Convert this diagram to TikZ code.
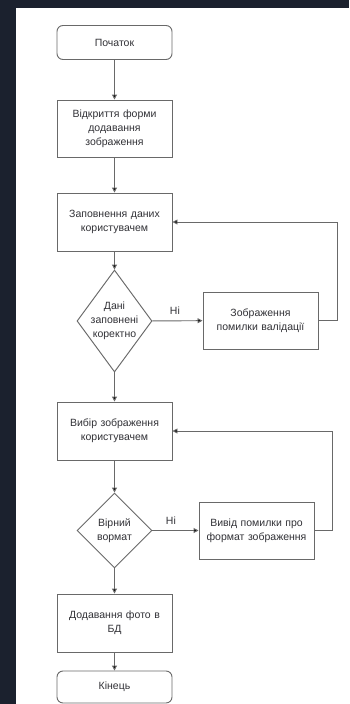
\documentclass[tikz,border=0pt]{standalone}
\usepackage{fontspec}
\setmainfont{Liberation Sans}
\usetikzlibrary{shapes.geometric,arrows.meta}
\definecolor{darkbg}{RGB}{27,33,46}
\definecolor{edgegray}{RGB}{105,105,105}
\definecolor{txtgray}{RGB}{50,50,55}

\begin{document}
\begin{tikzpicture}[x=1pt,y=-1pt,
  font=\fontsize{10.5}{14}\selectfont, text=txtgray,
  proc/.style={draw=edgegray, line width=0.95pt, minimum width=115pt, minimum height=57pt,
    text width=108pt, align=center, inner sep=0pt},
  term/.style={proc, rounded corners=6pt, minimum height=34pt},
  cond/.style={draw=edgegray, line width=0.95pt, shape=diamond, inner sep=0pt,
    minimum width=75pt},
  flow/.style={draw=edgegray, line width=0.95pt, -{Triangle[length=5pt,width=5pt,fill=black]}}]
% background
\fill[darkbg] (0,0) rectangle (349,704);
\fill[white] (16,8) rectangle (349,704);
\useasboundingbox (0,0) rectangle (349,704);

\node[term] (start) at (114.5,42.5) {Початок};
\node[proc] (open) at (114.5,128.5) {Відкриття форми\\додавання\\зображення};
\node[proc, minimum height=58pt] (fill) at (114.5,222) {Заповнення даних\\користувачем};
\node[cond, minimum height=102pt,
  label={[align=center, text=txtgray]center:Дані\\заповнені\\коректно}] (check1) at (114.5,321) {};
\node[proc] (err1) at (260.5,320.5) {Зображення\\помилки валідації};
\node[proc, minimum height=58pt] (choose) at (114.5,431) {Вибір зображення\\користувачем};
\node[cond, minimum height=75pt,
  label={[align=center, text=txtgray]center:Вірний\\вормат}] (check2) at (114.5,530.5) {};
\node[proc] (err2) at (256.5,530.5) {Вивід помилки про\\формат зображення};
\node[proc, minimum height=58pt] (save) at (114.5,623) {Додавання фото в\\БД};
\node[term, minimum height=32pt] (end) at (114.5,687) {Кінець};

\draw[flow] (start) -- (open);
\draw[flow] (open) -- (fill);
\draw[flow] (fill) -- (check1);
\draw[flow] (check1) -- node[above, pos=0.45, yshift=2pt] (no1) {Ні} (err1);
\draw[flow] (err1.east) -- ++(19,0) |- (fill.east);
\draw[flow] (check1) -- (choose);
\draw[flow] (choose) -- (check2);
\draw[flow] (check2) -- node[above, pos=0.4, yshift=2pt] (no2) {Ні} (err2);
\draw[flow] (err2.east) -- ++(18,0) |- (choose.east);
\draw[flow] (check2) -- (save);
\draw[flow] (save) -- (end);
\end{tikzpicture}
\end{document}
